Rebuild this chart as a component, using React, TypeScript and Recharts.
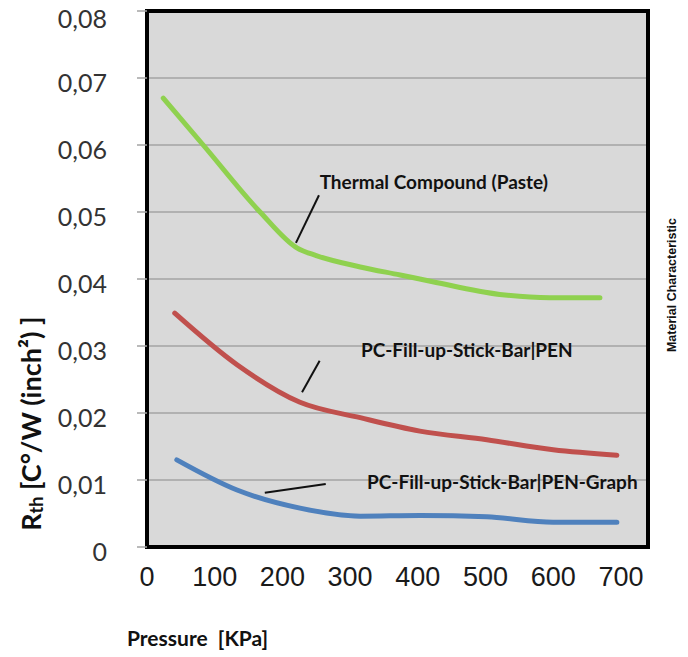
import React from 'react';
import { LineChart, Line, XAxis, YAxis, CartesianGrid, ReferenceArea, ReferenceLine, ReferenceDot } from 'recharts';

// pressure [KPa] / thermal resistance
const pasteP = [24, 83, 167, 222, 250, 315, 374, 422, 521, 595, 669];
const pasteR = [0.067, 0.06, 0.05, 0.0446, 0.0435, 0.0418, 0.0406, 0.0396, 0.0377, 0.0372, 0.0372];
const penP = [41, 133, 226, 315, 403, 502, 600, 694];
const penR = [0.0349, 0.0272, 0.0216, 0.0193, 0.0173, 0.016, 0.0145, 0.0137];
const graphP = [44, 133, 226, 315, 403, 502, 600, 694];
const graphR = [0.013, 0.0085, 0.0058, 0.0046, 0.0047, 0.0045, 0.0037, 0.0037];

const xTicks = [0, 100, 200, 300, 400, 500, 600, 700];
const yTicks = [0, 0.01, 0.02, 0.03, 0.04, 0.05, 0.06, 0.07, 0.08];

const seriesNames = ['Thermal Compound (Paste)', 'PC-Fill-up-Stick-Bar|PEN', 'PC-Fill-up-Stick-Bar|PEN-Graph'];
const seriesColors = ['#8fd14f', '#c0504d', '#4f81bd'];
// annotation text anchors and leader lines (pressure, Rth)
const labelAt = [[255, 0.0544], [316, 0.0294], [325, 0.0097]];
const leaderFrom = [[254, 0.0525], [255, 0.0278], [264, 0.0094]];
const leaderTo = [[220, 0.0454], [229, 0.0231], [174, 0.0081]];

const toRows = (p: number[], r: number[]) => p.map((v, i) => ({ p: v, r: r[i] }));
const series = [toRows(pasteP, pasteR), toRows(penP, penR), toRows(graphP, graphR)];

const fmtY = (v: number) => (v === 0 ? '0' : v.toFixed(2).replace('.', ','));

const YTitle = (props: any) => {
    const vb = props.viewBox || { x: 0, y: 11, width: 147, height: 536 };
    const cx = vb.x + 30;
    const cy = vb.y + vb.height * 0.77;
    return (
        <text
            transform={`translate(${cx}, ${cy}) rotate(-90)`}
            textAnchor="middle"
            dominantBaseline="central"
            fontFamily="Lato, 'Open Sans', sans-serif"
            fontWeight={700}
            fontSize={27}
            fill="#111"
        >
            <tspan>R</tspan>
            <tspan fontSize={18} dy={6}>th</tspan>
            <tspan dy={-6}>{' [C°/W (inch²) ]'}</tspan>
        </text>
    );
};

export default function App() {
    return (
        <div style={{ position: 'absolute', left: 0, top: 0, width: 688, height: 657, background: '#fff' }}>
            <LineChart width={688} height={657} margin={{ top: 11, right: 0, bottom: 0, left: 0 }}>
                <CartesianGrid vertical={false} stroke="#a3a3a3" strokeWidth={1.5} fill="#d9d9d9" fillOpacity={1} />
                <XAxis
                    dataKey="p"
                    type="number"
                    domain={[0, 740]}
                    ticks={xTicks}
                    axisLine={false}
                    tickLine={false}
                    tickSize={0}
                    tickMargin={20}
                    height={110}
                    tick={{ fill: '#1a1a1a', fontSize: 27, fontFamily: "'Liberation Sans Narrow', 'Liberation Sans', Arial, sans-serif" }}
                    label={{
                        value: 'Pressure\u00a0 [KPa]',
                        position: 'insideBottomLeft',
                        offset: 0,
                        dx: -20,
                        dy: -11,
                        fill: '#111',
                        fontSize: 21,
                        fontWeight: 700,
                        fontFamily: "Lato, 'Open Sans', sans-serif",
                    }}
                />
                <YAxis
                    type="number"
                    domain={[0, 0.08]}
                    ticks={yTicks}
                    width={147}
                    axisLine={false}
                    tickSize={10}
                    tickMargin={30}
                    tickLine={{ stroke: '#a3a3a3', strokeWidth: 1.5 }}
                    tickFormatter={fmtY}
                    tick={{ fill: '#333', fontSize: 25, dy: 5, fontFamily: "Lato, 'Open Sans', sans-serif" }}
                    label={YTitle}
                />
                <YAxis
                    yAxisId="right"
                    orientation="right"
                    type="number"
                    domain={[0, 0.08]}
                    width={40}
                    tick={false}
                    axisLine={false}
                    tickLine={false}
                    label={{
                        value: 'Material Characteristic',
                        angle: -90,
                        position: 'center',
                        dx: 4,
                        dy: 6,
                        fill: '#111',
                        fontSize: 12.5,
                        fontWeight: 700,
                        fontFamily: "'Liberation Sans', Arial, sans-serif",
                    }}
                />
                {series.map((rows, i) => (
                    <Line
                        key={seriesNames[i]}
                        data={rows}
                        dataKey="r"
                        type="monotone"
                        stroke={seriesColors[i]}
                        strokeWidth={5}
                        strokeLinecap="round"
                        dot={false}
                        activeDot={false}
                        isAnimationActive={false}
                    />
                ))}
                {seriesNames.map((name, i) => (
                    <ReferenceLine
                        key={`leader-${i}`}
                        segment={[
                            { x: leaderFrom[i][0], y: leaderFrom[i][1] },
                            { x: leaderTo[i][0], y: leaderTo[i][1] },
                        ]}
                        stroke="#111"
                        strokeWidth={2}
                    />
                ))}
                {seriesNames.map((name, i) => (
                    <ReferenceDot
                        key={`label-${i}`}
                        x={labelAt[i][0]}
                        y={labelAt[i][1]}
                        r={0}
                        fill="none"
                        stroke="none"
                        label={{
                            value: name,
                            position: 'right',
                            offset: 0,
                            fill: '#111',
                            fontSize: 19,
                            fontWeight: 700,
                            fontFamily: "Lato, 'Open Sans', sans-serif",
                        }}
                    />
                ))}
                <ReferenceArea x1={0} x2={740} y1={0} y2={0.08} fill="none" stroke="#000" strokeWidth={4} />
            </LineChart>
        </div>
    );
}
